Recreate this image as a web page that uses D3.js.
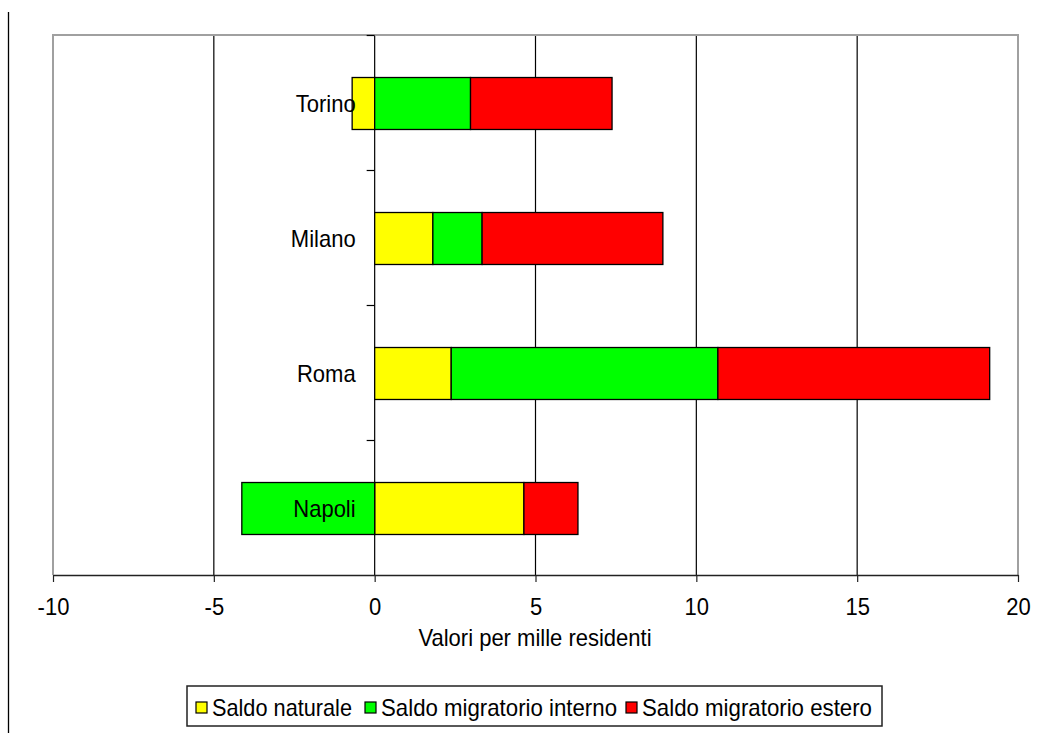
<!DOCTYPE html>
<html>
<head>
<meta charset="utf-8">
<script src="https://cdn.jsdelivr.net/npm/d3@7"></script>
<style>
  html, body { margin: 0; padding: 0; background: #fff; }
  svg { display: block; font-family: "Liberation Sans", Arial, sans-serif; }
</style>
</head>
<body>
<svg id="chart" width="1051" height="733"></svg>
<script>
// ---- data ----
const cities = ["Torino", "Milano", "Roma", "Napoli"];
const seriesNames = ["Saldo naturale", "Saldo migratorio interno", "Saldo migratorio estero"];
const saldoNaturale = [-0.7, 1.81, 2.38, 4.64];
const saldoInterno = [2.98, 1.53, 8.29, -4.13];
const saldoEstero = [4.40, 5.62, 8.45, 1.68];
const xTicks = [-10, -5, 0, 5, 10, 15, 20];
const xTitle = "Valori per mille residenti";
const colors = ["#ffff00", "#00ff00", "#ff0000"];

const rows = cities.map((c, i) => ({
  city: c,
  [seriesNames[0]]: saldoNaturale[i],
  [seriesNames[1]]: saldoInterno[i],
  [seriesNames[2]]: saldoEstero[i]
}));

const svg = d3.select("#chart");
const L = 53, R = 1018, T = 35, B = 575;

const x = d3.scaleLinear().domain([-10, 20]).range([L, R]);
const y = d3.scaleBand().domain(cities).range([T, B]).padding(0);
const color = d3.scaleOrdinal().domain(seriesNames).range(colors);

const stack = d3.stack().keys(seriesNames).offset(d3.stackOffsetDiverging);
const stacked = stack(rows);

// make text tall-and-narrow like the reference: width of 22px font, height of 24px font
function condense(sel, wSize = 22, hSize = 24) {
  sel.each(function () {
    const t = d3.select(this);
    t.attr("font-size", wSize);
    const w = this.getComputedTextLength();
    t.attr("font-size", hSize).attr("textLength", w).attr("lengthAdjust", "spacingAndGlyphs");
  });
}

// left decorative line
svg.append("line").attr("x1", 8.5).attr("x2", 8.5).attr("y1", 12).attr("y2", 733)
  .attr("stroke", "#000").attr("stroke-width", 1.3);

// gridlines
svg.append("g").selectAll("line")
  .data(xTicks.filter(t => t > -10 && t < 20))
  .join("line")
  .attr("x1", d => x(d)).attr("x2", d => x(d))
  .attr("y1", T).attr("y2", B)
  .attr("stroke", "#000").attr("stroke-width", 1.2);

// plot border (top, left, right)
svg.append("path")
  .attr("d", `M${L},${B} V${T} H${R} V${B}`)
  .attr("fill", "none").attr("stroke", "#a0a0a0").attr("stroke-width", 2);

// bars
const barH = y.bandwidth() * 0.385;
svg.append("g").selectAll("g")
  .data(stacked)
  .join("g")
  .attr("fill", d => color(d.key))
  .selectAll("rect")
  .data(d => d)
  .join("rect")
  .attr("x", d => x(Math.min(d[0], d[1])))
  .attr("width", d => Math.abs(x(d[1]) - x(d[0])))
  .attr("y", d => y(d.data.city) + (y.bandwidth() - barH) / 2 + 1)
  .attr("height", barH)
  .attr("stroke", "#000").attr("stroke-width", 1.3);

// category axis ticks at x=0
const boundaries = cities.map(c => y(c));
svg.append("g").selectAll("line")
  .data(boundaries)
  .join("line")
  .attr("x1", x(0) - 8).attr("x2", x(0))
  .attr("y1", d => d + 0.5).attr("y2", d => d + 0.5)
  .attr("stroke", "#000").attr("stroke-width", 1.2);

// category labels
svg.append("g").selectAll("text")
  .data(cities)
  .join("text")
  .attr("x", x(0) - 19)
  .attr("y", d => y(d) + y.bandwidth() / 2 + 1)
  .attr("dy", "0.35em")
  .attr("text-anchor", "end")
  .attr("fill", "#000")
  .text(d => d)
  .call(condense);

// x axis
const xAxis = d3.axisBottom(x).tickValues(xTicks).tickSize(7).tickSizeOuter(0).tickPadding(17)
  .tickFormat(d => String(d));
const gx = svg.append("g").attr("transform", `translate(0,${B})`).call(xAxis);
gx.select(".domain").attr("stroke", "#222").attr("stroke-width", 1.5);
gx.selectAll(".tick line").attr("stroke", "#222").attr("stroke-width", 1.2);
gx.selectAll(".tick text")
  .attr("font-family", "Liberation Sans, Arial, sans-serif").attr("fill", "#000")
  .attr("dy", null).attr("y", 40)
  .call(condense);

// x title
svg.append("text")
  .attr("x", 535).attr("y", 646)
  .attr("text-anchor", "middle")
  .text(xTitle)
  .call(condense);

// legend
const legend = svg.append("g");
legend.append("rect")
  .attr("x", 187).attr("y", 686).attr("width", 695).attr("height", 40)
  .attr("fill", "#fff").attr("stroke", "#222").attr("stroke-width", 1.5);
const legX = [196, 365, 626];
const legW = [140, 236, 230];
const items = legend.selectAll("g.item")
  .data(seriesNames)
  .join("g").attr("class", "item")
  .attr("transform", (d, i) => `translate(${legX[i]},702)`);
items.append("rect")
  .attr("width", 11).attr("height", 11)
  .attr("fill", d => color(d)).attr("stroke", "#000").attr("stroke-width", 1.2);
items.append("text")
  .attr("x", 16).attr("y", 14)
  .attr("font-size", 24)
  .attr("textLength", (d, i) => legW[i]).attr("lengthAdjust", "spacingAndGlyphs")
  .text(d => d);
</script>
</body>
</html>
